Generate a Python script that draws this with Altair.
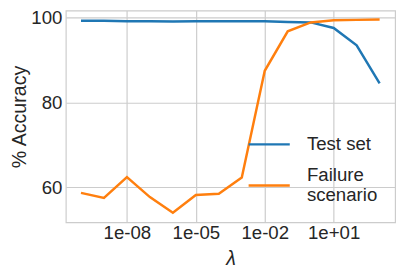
import math
import altair as alt
import pandas as pd

lam = [1e-10, 1e-9, 1e-8, 1e-7, 1e-6, 1e-5, 1e-4, 1e-3, 1e-2, 1e-1, 1e0, 1e1, 1e2, 1e3]
test_set = [99.3, 99.3, 99.2, 99.2, 99.1, 99.2, 99.2, 99.2, 99.2, 99.0, 98.9, 97.6, 93.5, 84.5]
failure = [58.7, 57.5, 62.4, 57.7, 54.0, 58.2, 58.5, 62.3, 87.5, 96.8, 98.9, 99.4, 99.5, 99.6]
series_names = ["Test set", "Failure scenario"]
series_colors = ["#1f77b4", "#ff7f0e"]
x_ticks = [1e-8, 1e-5, 1e-2, 1e1]
x_tick_labels = ["1e-08", "1e-05", "1e-02", "1e+01"]
y_ticks = [60, 80, 100]

rows = []
for name, vals in zip(series_names, [test_set, failure]):
    for i, (l, v) in enumerate(zip(lam, vals)):
        rows.append({"lam": l, "acc": v, "series": name, "order": i})
df = pd.DataFrame(rows)

expr = "''"
for t, lab in reversed(list(zip(x_ticks, x_tick_labels))):
    e = round(math.log10(t))
    expr = f"round(log(datum.value)/LN10) == {e} ? '{lab}' : ({expr})"

FONT = "Liberation Sans"
TXT = "#262626"

x = alt.X(
    "lam:Q",
    scale=alt.Scale(type="log", domain=[10 ** -10.66, 10 ** 3.675], nice=False),
    axis=alt.Axis(
        values=x_ticks, labelExpr=expr, title="λ", titleFontStyle="italic",
        grid=True, ticks=False, tickSize=0, domain=False, labelPadding=2,
        titlePadding=6,
    ),
)
y = alt.Y(
    "acc:Q",
    scale=alt.Scale(domain=[51.76, 101.69], nice=False, zero=False),
    axis=alt.Axis(
        values=y_ticks, title="% Accuracy", grid=True, ticks=False, tickSize=0,
        domain=False, labelPadding=4, titlePadding=1,
    ),
)

legend_pos = {"Test set": 114, "Failure scenario": 156}
legend_baseline = {"Test set": "middle", "Failure scenario": "line-bottom"}

layers = []
for name, col in zip(series_names, series_colors):
    color = alt.Color(
        "series:N",
        scale=alt.Scale(domain=[name], range=[col]),
        legend=alt.Legend(
            title=None, orient="none", legendX=185, legendY=legend_pos[name],
            symbolType="stroke", symbolSize=1764, symbolStrokeWidth=2.5,
            labelFontSize=19, labelOffset=16, labelLimit=300, padding=0,
            labelColor=TXT, labelFont=FONT, labelBaseline=legend_baseline[name],
            labelExpr="datum.label == 'Failure scenario' ? ['Failure', 'scenario'] : datum.label",
        ),
    )
    layers.append(
        alt.Chart(df)
        .transform_filter(alt.datum.series == name)
        .mark_line(strokeWidth=2.5)
        .encode(x=x, y=y, color=color, order="order:Q")
    )

chart = (
    alt.layer(*layers)
    .resolve_scale(color="independent")
    .properties(
        width=336, height=216,
        autosize=alt.AutoSizeParams(type="none"),
        padding={"left": 59, "top": 0, "right": 6, "bottom": 45},
    )
    .configure_view(stroke="#cccccc", strokeWidth=1.2)
    .configure_axis(
        labelFont=FONT, titleFont=FONT, labelFontSize=19, titleFontSize=20,
        labelColor=TXT, titleColor=TXT, gridColor="#cccccc", gridWidth=1.2,
        titleFontWeight="normal",
    )
)
chart.save("out.html", embed_options={"renderer": "svg", "actions": False})
